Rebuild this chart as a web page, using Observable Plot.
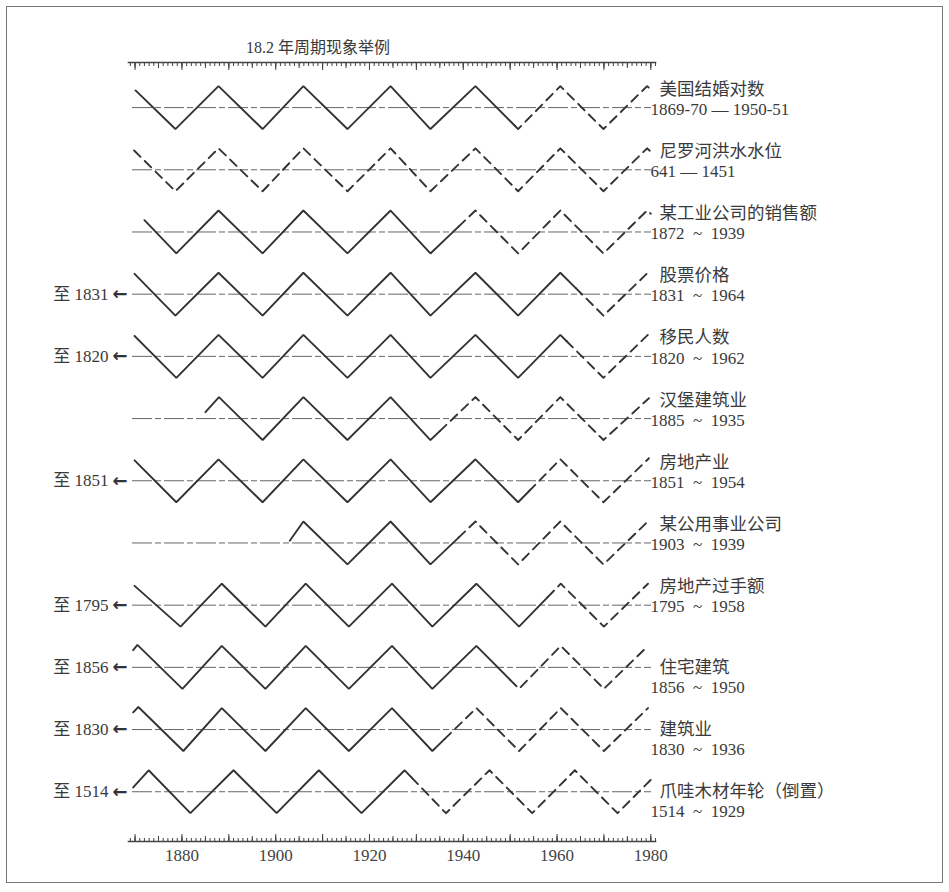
<!DOCTYPE html>
<html>
<head>
<meta charset="utf-8">
<script src="https://cdn.jsdelivr.net/npm/d3@7"></script>
<script src="https://cdn.jsdelivr.net/npm/@observablehq/plot@0.6"></script>
<style>
  body { margin: 0; background: #fff; }
  #wrap { position: relative; width: 949px; height: 892px; background: #fff; }
  #chart { position: absolute; left: 0; top: 0; }
  #border { position: absolute; left: 6px; top: 6px; width: 935px; height: 875px; border: 1px solid #777; pointer-events: none; }
  #title { position: absolute; left: 246px; top: 34px; font: 16px "Liberation Serif", "Times New Roman", "Noto Sans CJK SC", serif; color: #3a3a3a; white-space: nowrap; }
</style>
</head>
<body>
<div id="wrap">
  <div id="chart"></div>
  <div id="title">18.2 年周期现象举例</div>
  <div id="border"></div>
</div>
<script>
// ---- data ----
const names = ["美国结婚对数", "尼罗河洪水水位", "某工业公司的销售额", "股票价格", "移民人数", "汉堡建筑业",
  "房地产业", "某公用事业公司", "房地产过手额", "住宅建筑", "建筑业", "爪哇木材年轮（倒置）"];
const spans = ["1869-70 — 1950-51", "641 — 1451", "1872 ~ 1939", "1831 ~ 1964", "1820 ~ 1962", "1885 ~ 1935",
  "1851 ~ 1954", "1903 ~ 1939", "1795 ~ 1958", "1856 ~ 1950", "1830 ~ 1936", "1514 ~ 1929"];
const leftNotes = ["", "", "", "至 1831", "至 1820", "", "至 1851", "", "至 1795", "至 1856", "至 1830", "至 1514"];
// last year of actual data (solid); after it the projection is dashed
const dataEnd = [1951, 1860, 1939, 1964, 1962, 1935, 1954, 1939, 1958, 1950, 1936, 1929];
// turning points [year, level] (+1 peak, -1 trough)
const turns = [
  [[1870.1,0.8],[1878.6,-1],[1887.8,1],[1897.2,-1],[1905.9,1],[1915.3,-1],[1924.5,1],[1933.0,-1],[1942.6,1],[1951.7,-1],[1960.7,1],[1969.9,-1],[1979.2,1],[1980.0,0.85]],
  [[1869.8,0.9],[1878.6,-1],[1887.8,1],[1897.2,-1],[1905.9,1],[1915.3,-1],[1924.5,1],[1933.0,-1],[1942.6,1],[1951.7,-1],[1960.7,1],[1969.9,-1],[1979.2,1],[1980.0,0.85]],
  [[1872.0,0.55],[1878.8,-1],[1887.8,1],[1897.2,-1],[1905.9,1],[1915.3,-1],[1924.5,1],[1933.0,-1],[1942.6,1],[1951.7,-1],[1960.7,1],[1969.9,-1],[1979.2,1],[1980.0,0.85]],
  [[1869.9,0.95],[1878.6,-1],[1887.8,1],[1897.2,-1],[1905.9,1],[1915.3,-1],[1924.5,1],[1933.0,-1],[1942.6,1],[1951.7,-1],[1960.7,1],[1969.9,-1],[1979.6,1.05]],
  [[1869.9,0.95],[1878.8,-1],[1887.8,1],[1897.2,-1],[1905.9,1],[1915.3,-1],[1924.5,1],[1933.0,-1],[1942.6,1],[1951.7,-1],[1960.7,1],[1969.9,-1],[1979.6,1.05]],
  [[1885.0,0.3],[1887.9,1],[1897.2,-1],[1905.9,1],[1915.3,-1],[1924.5,1],[1933.0,-1],[1942.6,1],[1951.7,-1],[1960.7,1],[1969.9,-1],[1979.6,0.95]],
  [[1869.9,0.95],[1878.8,-1],[1887.8,1],[1897.2,-1],[1905.9,1],[1915.3,-1],[1924.5,1],[1933.0,-1],[1942.6,1],[1951.7,-1],[1960.7,1],[1969.9,-1],[1979.6,1.05]],
  [[1903.0,0.1],[1905.9,1],[1915.3,-1],[1924.5,1],[1933.0,-1],[1942.6,1],[1951.7,-1],[1960.7,1],[1969.9,-1],[1979.6,1.05]],
  [[1869.9,0.9],[1879.7,-1],[1888.5,1],[1897.8,-1],[1906.4,1],[1915.6,-1],[1924.8,1],[1933.4,-1],[1942.8,1],[1951.9,-1],[1960.8,1],[1970.0,-1],[1979.4,1]],
  [[1869.6,0.8],[1870.5,1.05],[1880.1,-1],[1888.5,1],[1897.8,-1],[1906.4,1],[1915.6,-1],[1924.8,1],[1933.4,-1],[1942.8,1],[1951.9,-1],[1960.8,1],[1970.0,-1],[1979.4,1]],
  [[1869.6,0.8],[1870.7,1.05],[1880.3,-1],[1888.5,1],[1897.8,-1],[1906.4,1],[1915.6,-1],[1924.8,1],[1933.4,-1],[1942.8,1],[1951.9,-1],[1960.8,1],[1970.0,-1],[1979.4,1]],
  [[1869.6,0.2],[1872.9,1],[1881.8,-1],[1891.0,1],[1900.2,-1],[1909.2,1],[1918.3,-1],[1927.5,1],[1936.3,-1],[1945.6,1],[1954.7,-1],[1963.8,1],[1972.9,-1],[1980.2,0.6]]
];
const labelYears = [1880, 1900, 1920, 1940, 1960, 1980];

// ---- build the mark data ----
const amp = 0.345;
const rows = names.map((name, i) => ({i, pos: i + 1, name, span: spans[i].replace(/ ~ /g, "\u2002~\u2002"), note: leftNotes[i], low: i >= 9}));
const solid = [], dashed = [];
turns.forEach((pts, i) => {
  const end = dataEnd[i];
  const s = [], d = [];
  pts.forEach(([yr, lv], k) => {
    if (yr <= end) s.push([yr, lv]);
    else {
      if (s.length && d.length === 0) {
        const [y0, l0] = pts[k - 1];
        const t = (end - y0) / (yr - y0);
        const mid = [end, l0 + t * (lv - l0)];
        s.push(mid); d.push(mid);
      }
      d.push([yr, lv]);
    }
  });
  s.forEach(([yr, lv]) => solid.push({row: i, x: yr, y: i + 1 - lv * amp}));
  d.forEach(([yr, lv]) => dashed.push({row: i, x: yr, y: i + 1 - lv * amp}));
});

const yearsAll = d3.range(1869, 1982);
const years5 = yearsAll.filter(y => y % 5 === 0);
const years10 = yearsAll.filter(y => y % 10 === 0);

const serif = "'Liberation Serif', 'Times New Roman', 'Noto Sans CJK SC', serif";
const cjk = "'Noto Sans CJK SC', sans-serif";
const ink = "#333";
const txt = "#3a3a3a";

const tickAxes = [];
[[yearsAll, 3], [years5, 5], [years10, 7]].forEach(([ys, ts]) => {
  tickAxes.push(Plot.axisX(ys, {anchor: "bottom", tickSize: ts, dy: -ts, tickFormat: () => "", label: null, stroke: "#444"}));
  tickAxes.push(Plot.axisX(ys, {anchor: "top", tickSize: ts, dy: ts, tickFormat: () => "", label: null, stroke: "#444"}));
});

const chart = Plot.plot({
  width: 949,
  height: 892,
  marginLeft: 128,
  marginRight: 294,
  marginTop: 62,
  marginBottom: 51,
  style: {fontFamily: serif, fontSize: "16px", color: ink, background: "#fff"},
  x: {domain: [1868.6, 1981], axis: null},
  y: {domain: [0.275, 12.8], reverse: true, axis: null},
  marks: [
    Plot.ruleY(rows, {y: "pos", stroke: "#555", strokeWidth: 0.9, strokeDasharray: "20,3,6,3", insetLeft: 4, insetRight: 4}),
    Plot.line(solid, {x: "x", y: "y", z: "row", stroke: ink, strokeWidth: 1.9, strokeLinejoin: "miter"}),
    Plot.line(dashed, {x: "x", y: "y", z: "row", stroke: ink, strokeWidth: 1.9, strokeDasharray: "9,6"}),
    ...tickAxes,
    Plot.frame({anchor: "top", stroke: "#444", strokeWidth: 1.6}),
    Plot.frame({anchor: "bottom", stroke: "#444", strokeWidth: 1.6}),
    Plot.axisX(labelYears, {anchor: "bottom", tickSize: 0, tickPadding: 7, tickFormat: "d", fontSize: 17, label: null, fill: "#444"}),
    Plot.text(rows, {y: d => d.low ? d.pos : d.pos - 0.3, text: "name", frameAnchor: "right", textAnchor: "start", dx: 4, fontFamily: cjk, fontSize: 17.5, fill: txt}),
    Plot.text(rows, {y: d => d.low ? d.pos + 0.32 : d.pos + 0.03, text: "span", frameAnchor: "right", textAnchor: "start", dx: -5, fontSize: 17, fill: txt}),
    Plot.text(rows.filter(d => d.note), {y: "pos", text: "note", frameAnchor: "left", textAnchor: "end", dx: -20, fontSize: 17, fill: txt}),
    Plot.text(rows.filter(d => d.note), {y: "pos", text: () => "←", frameAnchor: "left", textAnchor: "end", dx: -1, fontSize: 18, fontWeight: "bold", fontFamily: "'DejaVu Sans', sans-serif", fill: "#333"})
  ]
});
document.getElementById("chart").appendChild(chart);
</script>
</body>
</html>
